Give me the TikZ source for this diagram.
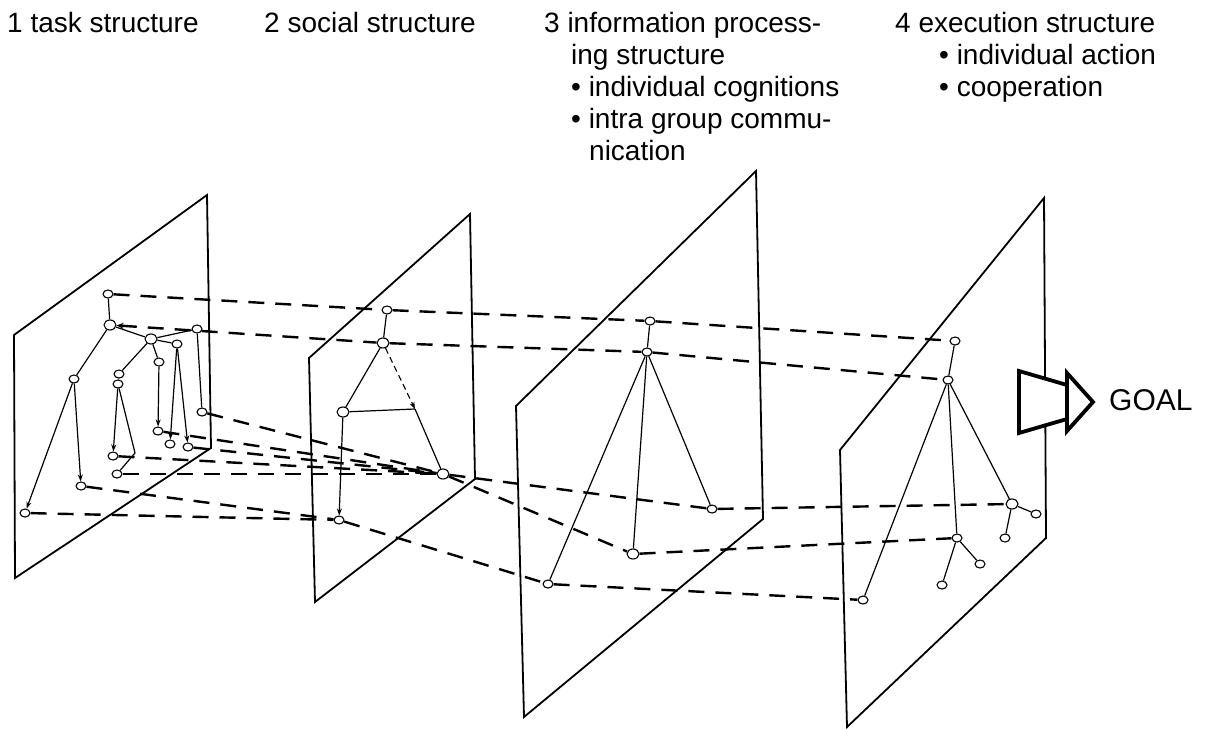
\documentclass[tikz,border=0pt]{standalone}
\usepackage{fontspec}
\setmainfont{Liberation Sans}
\usetikzlibrary{arrows.meta,shapes.geometric}
\pgfdeclarelayer{planes}
\pgfdeclarelayer{edges}
\pgfsetlayers{planes,edges,main}
\begin{document}
\begin{tikzpicture}[x=1pt,y=-1pt,
  plane/.style={line width=1.8pt, line join=miter},
  tree/.style={line width=1.2pt},
  link/.style={line width=2.4pt, dash pattern=on 16pt off 11pt},
  thinlink/.style={line width=1.1pt, dash pattern=on 6pt off 4pt},
  nd/.style={ellipse, draw, line width=1.1pt, fill=white, minimum width=10pt, minimum height=8pt, inner sep=0pt},
  bignd/.style={nd, minimum width=12pt, minimum height=10pt},
  arr/.style={-{Stealth[length=7pt,width=5pt]}},
  lbl/.style={anchor=base west, inner sep=0pt, font=\fontsize{28}{32}\selectfont},
  goalbox/.style={line width=3.8pt, line join=miter, fill=white}
]
\useasboundingbox (0,0) rectangle (1209,730);

% headings
\node[lbl] (t1) at (7,33) {1 task structure};
\node[lbl] (t2) at (264,33) {2 social structure};
\node[lbl] (t3a) at (544,33) {3 information process-};
\node[lbl] (t3b) at (571,65) {ing structure};
\node[lbl] (t3c) at (571,97) {\textbullet{} individual cognitions};
\node[lbl] (t3d) at (571,129) {\textbullet{} intra group commu-};
\node[lbl] (t3e) at (589,161) {nication};
\node[lbl] (t4a) at (895,33) {4 execution structure};
\node[lbl] (t4b) at (939,65) {\textbullet{} individual action};
\node[lbl] (t4c) at (939,97) {\textbullet{} cooperation};

% planes
\begin{pgfonlayer}{planes}
\draw[plane] (207,195) -- (14,335) -- (15,578) -- (211,448) -- cycle;
\draw[plane] (470,214) -- (309,358) -- (315,602) -- (475,479) -- cycle;
\draw[plane] (756,171) -- (516,406) -- (524,717) -- (763,519) -- cycle;
\draw[plane] (1044,198) -- (840,450) -- (847,727) -- (1046,538) -- cycle;
\end{pgfonlayer}

% plane 1 nodes
\node[nd] (a1) at (108,294) {};
\node[bignd] (a2) at (110,325) {};
\node[nd] (a3) at (197,329) {};
\node[bignd] (a4) at (151,339) {};
\node[nd] (a5) at (177,344) {};
\node[nd] (a6) at (159,362) {};
\node[nd] (a7) at (74,379) {};
\node[nd] (a8) at (119,374) {};
\node[nd] (a9) at (118,384) {};
\node[nd] (a10) at (202,412) {};
\node[nd] (a11) at (158,431) {};
\node[nd] (a12) at (170,444) {};
\node[nd] (a13) at (188,447) {};
\node[nd] (a14) at (113,456) {};
\node[nd] (a15) at (117,474) {};
\node[nd] (a16) at (81,486) {};
\node[nd] (a17) at (25,513) {};
\coordinate (b1) at (135,453);

% plane 2 nodes
\node[nd] (m1) at (387,310) {};
\node[bignd] (m2) at (383,343) {};
\node[bignd] (m3) at (343,412) {};
\coordinate (P) at (415,409);
\node[bignd] (m5) at (443,474) {};
\node[nd] (m6) at (339,520) {};

% plane 3 nodes
\node[nd] (p1) at (650,321) {};
\node[nd] (p2) at (647,352) {};
\node[nd] (p3) at (712,509) {};
\node[bignd] (p4) at (633,554) {};
\node[nd] (p5) at (548,584) {};

% plane 4 nodes
\node[nd] (q1) at (955,341) {};
\node[nd] (q2) at (948,380) {};
\node[bignd] (q3) at (1012,504) {};
\node[nd] (q4) at (1036,514) {};
\node[nd] (q5) at (1005,538) {};
\node[nd] (q6) at (957,538) {};
\node[nd] (q7) at (980,564) {};
\node[nd] (q8) at (942,585) {};
\node[nd] (q9) at (863,600) {};

\begin{pgfonlayer}{edges}
% dashed links between planes
\draw[link] (a1) -- (m1);
\draw[link] (m1) -- (p1);
\draw[link] (p1) -- (q1);
\draw[link, {Stealth[length=7pt,width=6pt]}-] (a2) -- (m2);
\draw[link] (m2) -- (p2);
\draw[link] (p2) -- (q2);
\draw[link] (a10) -- (m5);
\draw[link] (a11) -- (m5);
\draw[link] (a13) -- (m5);
\draw[link] (a14) -- (m5);
\draw[link] (a15) -- (m5);
\draw[link] (a16) -- (m6);
\draw[link] (a17) -- (m6);
\draw[link] (m5) -- (p3);
\draw[link] (p3) -- (q3);
\draw[link] (m5) -- (p4);
\draw[link] (p4) -- (q6);
\draw[link] (m6) -- (p5);
\draw[link] (p5) -- (q9);

% plane 1 tree
\draw[tree] (a1) -- (a2);
\draw[tree] (a2) -- (a4);
\draw[tree] (a4) -- (a3);
\draw[tree] (a2) -- (a7);
\draw[tree] (a4) -- (a8);
\draw[tree] (a8) -- (a9);
\draw[tree] (a4) -- (a6);
\draw[tree] (a4) -- (a5);
\draw[tree] (a3) -- (a10);
\draw[tree,arr] (a7) -- (a17);
\draw[tree,arr] (a7) -- (a16);
\draw[tree,arr] (a9) -- (a14);
\draw[tree] (a9) -- (b1) -- (a15);
\draw[tree,arr] (a6) -- (a11);
\draw[tree,arr] (a5) -- (a12);
\draw[tree,arr] (a5) -- (a13);

% plane 2 tree
\draw[tree] (m1) -- (m2);
\draw[tree] (m2) -- (m3);
\draw[tree] (m3) -- (P);
\draw[thinlink,arr] (m2) -- (P);
\draw[tree] (P) -- (m5);
\draw[tree,arr] (m3) -- (m6);

% plane 3 tree
\draw[tree] (p1) -- (p2);
\draw[tree] (p2) -- (p3);
\draw[tree] (p2) -- (p4);
\draw[tree] (p2) -- (p5);

% plane 4 tree
\draw[tree] (q1) -- (q2);
\draw[tree] (q2) -- (q9);
\draw[tree] (q2) -- (q6);
\draw[tree] (q2) -- (q3);
\draw[tree] (q3) -- (q4);
\draw[tree] (q3) -- (q5);
\draw[tree] (q6) -- (q7);
\draw[tree] (q6) -- (q8);
\end{pgfonlayer}

% GOAL arrow
\draw[goalbox] (1019,371) -- (1067,385) -- (1067,419) -- (1019,433) -- cycle;
\draw[goalbox] (1067,373) -- (1093,402) -- (1067,431) -- cycle;
\node[anchor=base west, inner sep=0pt, font=\fontsize{30}{34}\selectfont] (goal) at (1109,410) {GOAL};
\end{tikzpicture}
\end{document}
